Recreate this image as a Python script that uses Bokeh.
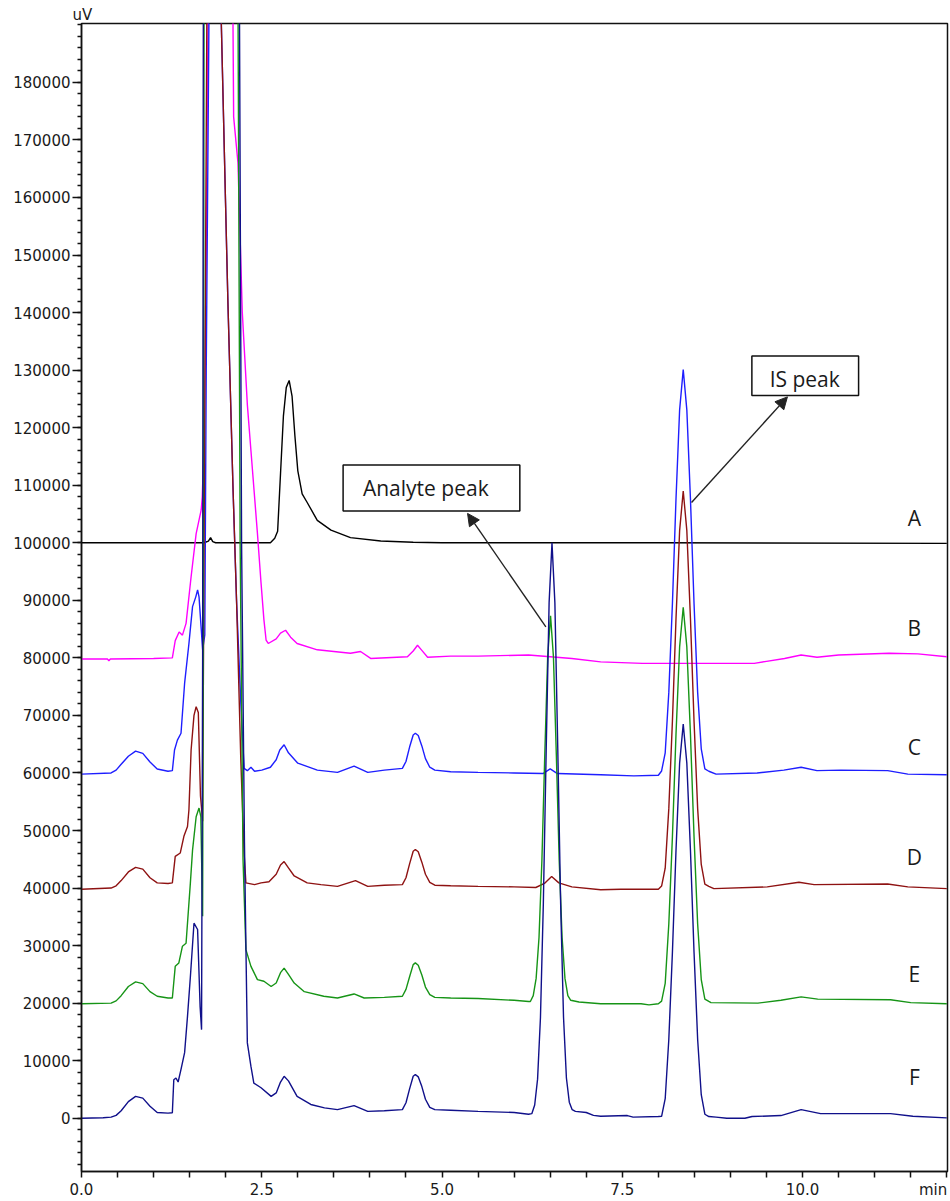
from bokeh.plotting import figure
from bokeh.models import (Range1d, FixedTicker, PrintfTickFormatter, Label,
                          BoxAnnotation, Arrow, NormalHead)
from bokeh.embed import file_html
from bokeh.resources import INLINE

# ---------------- data (time in min, signal in uV) ----------------
time_ticks = [0.0, 2.5, 5.0, 7.5, 10.0]
time_minor = [i * 0.5 for i in range(0, 25)]
time_unit_pos = 11.81
signal_ticks = list(range(0, 180001, 10000))
signal_minor = list(range(-8000, 190001, 2000))

trace_A = [(0.00, 100000), (1.70, 100000), (1.76, 100300), (1.79, 100900), (1.82, 100200),
           (1.86, 100000), (2.62, 100000), (2.68, 100800), (2.72, 102000), (2.76, 112000),
           (2.80, 122000), (2.84, 127000), (2.88, 128200), (2.92, 125500), (2.96, 118500),
           (3.00, 112500), (3.06, 108500), (3.13, 107000), (3.27, 103900), (3.46, 102200),
           (3.73, 100900), (4.15, 100300), (4.60, 100100), (5.00, 100000), (8.00, 100000),
           (12.00, 99900)]

trace_B = [(0.00, 79800), (0.36, 79800), (0.38, 79500), (0.40, 79800), (1.00, 79900),
           (1.26, 80000), (1.30, 83000), (1.354, 84500), (1.40, 83950), (1.45, 86000),
           (1.52, 94100), (1.59, 101600), (1.66, 105700), (1.675, 108000), (1.70, 118000),
           (1.73, 150000), (1.76, 200000), (1.95, 320000), (2.10, 192000), (2.11, 174000),
           (2.17, 166000), (2.23, 140000), (2.30, 124000), (2.35, 116000), (2.44, 101600),
           (2.49, 93000), (2.53, 86600), (2.56, 83100), (2.59, 82500), (2.70, 83300),
           (2.76, 84300), (2.83, 84800), (2.90, 83600), (2.99, 82500), (3.27, 81400),
           (3.73, 80800), (3.87, 81100), (4.01, 79900), (4.52, 80200), (4.60, 81200),
           (4.66, 82200), (4.72, 81300), (4.80, 80100), (5.12, 80300), (5.50, 80300),
           (6.20, 80500), (6.80, 79900), (7.20, 79300), (7.78, 79050), (9.33, 79050),
           (9.50, 79400), (9.75, 79900), (9.98, 80500), (10.20, 80100), (10.50, 80500),
           (11.20, 80800), (11.60, 80700), (12.00, 80200)]

trace_C = [(0.00, 59800), (0.41, 60000), (0.48, 60500), (0.55, 61500), (0.65, 62900),
           (0.75, 63800), (0.85, 63400), (0.95, 61900), (1.05, 60700), (1.20, 60300),
           (1.26, 60400), (1.29, 64000), (1.33, 65700), (1.38, 66900), (1.43, 75600),
           (1.49, 82500), (1.54, 88900), (1.585, 90600), (1.61, 91800), (1.63, 90600),
           (1.655, 86000), (1.68, 81400), (1.71, 84000), (1.73, 130000), (1.77, 195000),
           (1.85, 300000), (1.93, 195000), (2.03, 142000), (2.10, 110000), (2.15, 90000),
           (2.21, 72000), (2.255, 60800), (2.30, 60400), (2.35, 61000), (2.40, 60300),
           (2.50, 60500), (2.62, 61000), (2.70, 62300), (2.75, 64000), (2.81, 64900),
           (2.87, 63500), (3.00, 61700), (3.27, 60500), (3.55, 60100), (3.78, 61200),
           (3.97, 60100), (4.20, 60500), (4.45, 60800), (4.50, 62000), (4.55, 64500),
           (4.60, 66600), (4.63, 66900), (4.67, 66500), (4.72, 64700), (4.77, 62500),
           (4.83, 61000), (4.90, 60500), (5.12, 60200), (5.50, 60100), (6.00, 60000),
           (6.40, 59900), (6.50, 60700), (6.60, 59900), (7.20, 59700), (7.66, 59500),
           (8.00, 59600), (8.045, 60350), (8.095, 63500), (8.145, 74000), (8.195, 89400),
           (8.245, 107700), (8.295, 123100), (8.345, 130100), (8.395, 123100),
           (8.445, 107700), (8.495, 89400), (8.545, 74000), (8.595, 64200), (8.645, 60700),
           (8.70, 60300), (8.80, 59800), (9.37, 60000), (9.74, 60500), (9.98, 61000),
           (10.20, 60400), (10.53, 60500), (11.18, 60400), (11.46, 59800), (12.00, 59700)]

trace_D = [(0.00, 39800), (0.41, 40000), (0.48, 40400), (0.55, 41300), (0.65, 42800),
           (0.75, 43600), (0.85, 43300), (0.95, 41800), (1.05, 40900), (1.20, 40800),
           (1.26, 40900), (1.30, 45500), (1.37, 46100), (1.42, 49000), (1.47, 50700),
           (1.49, 53600), (1.52, 64000), (1.56, 70000), (1.59, 71500), (1.62, 70500),
           (1.65, 56000), (1.68, 51600), (1.70, 100000), (1.74, 195000), (1.85, 300000),
           (1.93, 195000), (2.03, 142000), (2.10, 110000), (2.15, 90000), (2.21, 62000),
           (2.255, 46000), (2.28, 40900), (2.40, 40600), (2.49, 40900), (2.60, 41100),
           (2.70, 42400), (2.76, 44000), (2.81, 44600), (2.87, 43500), (2.95, 42100),
           (3.13, 40900), (3.32, 40600), (3.55, 40300), (3.80, 41300), (3.97, 40300),
           (4.20, 40500), (4.45, 40600), (4.50, 41800), (4.55, 44200), (4.60, 46400),
           (4.63, 46700), (4.67, 46300), (4.72, 44500), (4.77, 42400), (4.83, 41000),
           (4.90, 40500), (5.12, 40400), (5.50, 40300), (6.00, 40200), (6.30, 40100),
           (6.42, 40800), (6.52, 42000), (6.62, 40900), (6.80, 40200), (7.20, 39700),
           (7.48, 39800), (8.00, 39800), (8.045, 40350), (8.095, 43450), (8.145, 53800),
           (8.195, 69000), (8.245, 86900), (8.295, 102100), (8.345, 109000),
           (8.395, 102100), (8.445, 86900), (8.495, 69000), (8.545, 53800), (8.595, 44100),
           (8.645, 40700), (8.70, 40300), (8.77, 39900), (9.51, 40200), (9.95, 41000),
           (10.16, 40600), (11.18, 40700), (11.46, 40200), (12.00, 39900)]

trace_E = [(0.00, 19900), (0.41, 20000), (0.48, 20400), (0.55, 21300), (0.65, 22900),
           (0.75, 23700), (0.85, 23400), (0.95, 22000), (1.05, 21200), (1.20, 20900),
           (1.26, 20900), (1.30, 26400), (1.35, 27000), (1.40, 29900), (1.45, 30400),
           (1.51, 40900), (1.54, 46600), (1.59, 52400), (1.63, 53900), (1.655, 52400),
           (1.68, 35100), (1.69, 100000), (1.70, 195000), (1.95, 320000), (2.17, 195000),
           (2.20, 100000), (2.24, 45000), (2.28, 29300), (2.35, 26400), (2.44, 24100),
           (2.53, 23800), (2.63, 22900), (2.70, 23500), (2.76, 25300), (2.81, 26100),
           (2.87, 25000), (2.95, 23500), (3.09, 22000), (3.36, 21200), (3.55, 20900),
           (3.78, 21600), (3.92, 20900), (4.20, 21000), (4.45, 21200), (4.50, 22400),
           (4.55, 24600), (4.60, 26700), (4.63, 27000), (4.67, 26600), (4.72, 24900),
           (4.77, 22800), (4.83, 21500), (4.90, 21000), (5.12, 20900), (5.50, 20800),
           (6.00, 20500), (6.20, 20300), (6.225, 20300), (6.265, 21300), (6.305, 24300),
           (6.345, 31400), (6.385, 44800), (6.425, 63200), (6.465, 80200), (6.505, 87300),
           (6.545, 80200), (6.585, 63200), (6.625, 44800), (6.665, 31400), (6.705, 24300),
           (6.745, 21300), (6.785, 20500), (6.90, 20200), (7.20, 19900), (7.76, 19900),
           (7.87, 19700), (8.00, 19900), (8.045, 20350), (8.095, 23440), (8.145, 33760),
           (8.195, 48900), (8.245, 66800), (8.295, 81900), (8.345, 88800), (8.395, 81900),
           (8.445, 66800), (8.495, 48900), (8.545, 33760), (8.595, 24100), (8.645, 20700),
           (8.70, 20300), (8.73, 20100), (9.38, 20000), (9.70, 20500), (9.98, 21100),
           (10.21, 20700), (11.22, 20600), (11.50, 20100), (12.00, 19900)]

trace_F = [(0.00, 0), (0.30, 100), (0.41, 200), (0.48, 500), (0.55, 1300), (0.65, 2900),
           (0.75, 3800), (0.85, 3500), (0.95, 2100), (1.05, 1000), (1.20, 900), (1.26, 950),
           (1.28, 6700), (1.31, 7000), (1.34, 6300), (1.38, 8500), (1.43, 11400),
           (1.47, 17700), (1.51, 24600), (1.56, 33900), (1.61, 32800), (1.645, 19400),
           (1.665, 15400), (1.68, 80000), (1.69, 195000), (1.95, 320000), (2.19, 195000),
           (2.22, 100000), (2.26, 47900), (2.28, 30000), (2.30, 13100), (2.35, 9000),
           (2.39, 6100), (2.49, 5300), (2.63, 3800), (2.70, 4400), (2.76, 6300),
           (2.81, 7300), (2.87, 6500), (2.99, 3800), (3.18, 2400), (3.37, 1800),
           (3.55, 1500), (3.78, 2200), (3.97, 1200), (4.20, 1300), (4.45, 1500),
           (4.50, 2700), (4.55, 5100), (4.60, 7300), (4.63, 7600), (4.67, 7200),
           (4.72, 5500), (4.77, 3300), (4.83, 1900), (4.90, 1500), (5.12, 1400),
           (5.50, 1200), (6.00, 1000), (6.20, 700), (6.245, 800), (6.285, 2300),
           (6.325, 6800), (6.365, 17500), (6.405, 37300), (6.445, 64300), (6.485, 89600),
           (6.525, 100000), (6.565, 89600), (6.605, 64300), (6.645, 37300), (6.685, 17500),
           (6.725, 7000), (6.765, 2800), (6.805, 1500), (6.85, 1200), (7.00, 1000),
           (7.10, 500), (7.20, 350), (7.57, 470), (7.65, 200), (8.00, 300), (8.045, 340),
           (8.095, 3400), (8.145, 13700), (8.195, 28800), (8.245, 46600), (8.295, 61700),
           (8.345, 68500), (8.395, 61700), (8.445, 46600), (8.495, 28800), (8.545, 13700),
           (8.595, 4100), (8.645, 700), (8.70, 300), (8.80, 200), (8.95, 0), (9.20, 0),
           (9.30, 300), (9.70, 470), (9.98, 1500), (10.25, 800), (11.22, 800),
           (11.53, 350), (12.00, 70)]

trace_names = ["A", "B", "C", "D", "E", "F"]
traces = [trace_A, trace_B, trace_C, trace_D, trace_E, trace_F]

# ---------------- styles / placements ----------------
trace_colors = ["#000000", "#FF00FF", "#1E1EFF", "#8E1212", "#169416", "#10108A"]
name_label_x = 11.55
name_label_y = [104230, 85130, 64530, 45430, 25000, 7150]
label_font = "DejaVu Sans"
ink = "#1a1a1a"

p = figure(width=950, height=1201, title="uV",
           x_range=Range1d(0, 12.01), y_range=Range1d(-9250, 190230),
           output_backend="svg", toolbar_location=None,
           min_border_left=81, min_border_right=3, min_border_top=23,
           min_border_bottom=29)
p.title.text_font = label_font
p.title.text_font_size = "15px"
p.title.text_font_style = "normal"
p.title.text_color = ink
p.title.align = "left"
p.title.offset = -9
p.title.standoff = 0

p.xgrid.visible = False
p.ygrid.visible = False
p.background_fill_color = "white"
p.border_fill_color = "white"
p.outline_line_color = "#111111"
p.outline_line_width = 1.5

for tr, col in zip(traces, trace_colors):
    xs = [t for t, v in tr]
    ys = [v for t, v in tr]
    p.line(xs, ys, line_color=col, line_width=1.4)

for ax in (p.xaxis[0], p.yaxis[0]):
    ax.axis_line_color = "#111111"
    ax.axis_line_width = 1.5
    ax.major_tick_line_color = "#111111"
    ax.minor_tick_line_color = "#111111"
    ax.major_tick_line_width = 1.5
    ax.minor_tick_line_width = 1.5
    ax.major_tick_in = 0
    ax.minor_tick_in = 0
    ax.major_label_text_font = label_font
    ax.major_label_text_font_size = "15px"
    ax.major_label_text_color = ink

# x axis: all tick marks drawn as the (equal-length) minor ticks, so the
# "min" unit can sit at the end of the label row without a tick mark
p.xaxis.ticker = FixedTicker(ticks=time_ticks + [time_unit_pos], minor_ticks=time_minor)
p.xaxis.formatter = PrintfTickFormatter(format="%.1f")
p.xaxis.major_label_overrides = {time_unit_pos: "min"}
p.xaxis.major_tick_out = 0
p.xaxis.minor_tick_out = 6
p.xaxis.major_label_standoff = 3

p.yaxis.ticker = FixedTicker(ticks=signal_ticks, minor_ticks=signal_minor)
p.yaxis.formatter = PrintfTickFormatter(format="%d")
p.yaxis.major_tick_out = 9
p.yaxis.minor_tick_out = 4
p.yaxis.major_label_standoff = 2

# trace names
for nm, ly in zip(trace_names, name_label_y):
    p.add_layout(Label(x=name_label_x, y=ly, text=nm, text_font="Open Sans",
                       text_font_size="21px", text_color=ink,
                       text_align="center", text_baseline="alphabetic"))

# callout boxes
def callout(left, right, top, bottom, text, tx, ty, ax0, ay0, ax1, ay1):
    p.add_layout(Arrow(x_start=ax0, y_start=ay0, x_end=ax1, y_end=ay1,
                       line_color="#222222", line_width=1.4,
                       end=NormalHead(size=12, fill_color="#222222", line_color="#222222")))
    p.add_layout(BoxAnnotation(left=left, right=right, top=top, bottom=bottom,
                               fill_color="white", fill_alpha=1.0,
                               line_color="#111111", line_alpha=1.0, line_width=1.5))
    p.add_layout(Label(x=tx, y=ty, text=text, text_font="Open Sans", text_font_size="21px",
                       text_color=ink, text_align="center", text_baseline="alphabetic"))

callout(3.628, 6.079, 113500, 105500, "Analyte peak", 4.775, 109520,
        6.44, 85400, 5.354, 105100)
callout(9.297, 10.777, 132460, 125580, "IS peak", 10.03, 128460,
        8.46, 107000, 9.79, 125350)

open("out.html", "w").write(file_html(p, INLINE))
